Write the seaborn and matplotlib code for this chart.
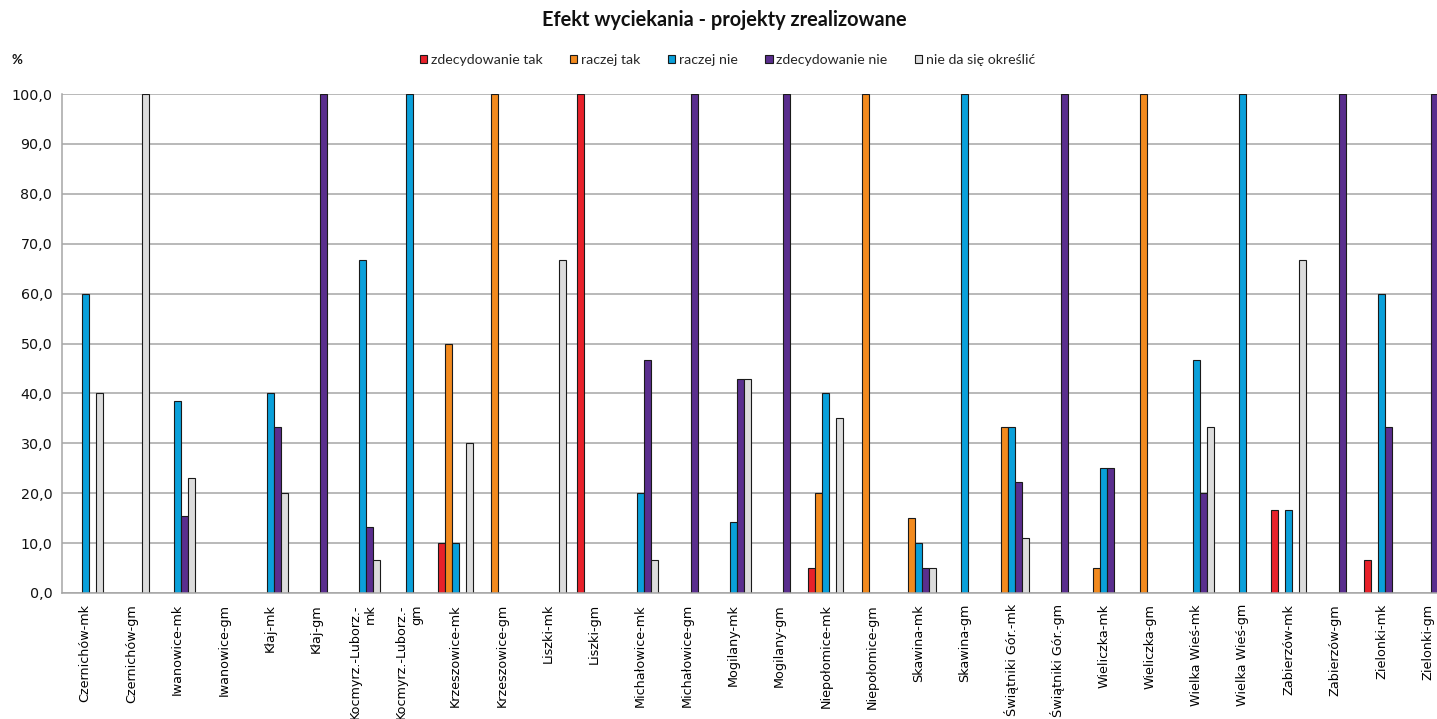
import matplotlib
matplotlib.use("Agg")
import matplotlib.pyplot as plt
from matplotlib.patches import Patch
from matplotlib.ticker import FixedLocator, FuncFormatter
import pandas as pd
import seaborn as sns

# Categories (municipality / area type)
categories = [
    "Czernichów-mk", "Czernichów-gm", "Iwanowice-mk", "Iwanowice-gm",
    "Kłaj-mk", "Kłaj-gm", "Kocmyrz.-Luborz.-\nmk", "Kocmyrz.-Luborz.-\ngm",
    "Krzeszowice-mk", "Krzeszowice-gm", "Liszki-mk", "Liszki-gm",
    "Michałowice-mk", "Michałowice-gm", "Mogilany-mk", "Mogilany-gm",
    "Niepołomice-mk", "Niepołomice-gm", "Skawina-mk", "Skawina-gm",
    "Świątniki Gór.-mk", "Świątniki Gór.-gm", "Wieliczka-mk", "Wieliczka-gm",
    "Wielka Wieś-mk", "Wielka Wieś-gm", "Zabierzów-mk", "Zabierzów-gm",
    "Zielonki-mk", "Zielonki-gm",
]

series_names = ["zdecydowanie tak", "raczej tak", "raczej nie",
                "zdecydowanie nie", "nie da się określić"]

# Share of answers (%) per category
zdecydowanie_tak = [0, 0, 0, 0, 0, 0, 0, 0, 10, 0, 0, 100, 0, 0, 0,
                    0, 5, 0, 0, 0, 0, 0, 0, 0, 0, 0, 16.7, 0, 6.7, 0]
raczej_tak = [0, 0, 0, 0, 0, 0, 0, 0, 50, 100, 0, 0, 0, 0, 0,
              0, 20, 100, 15, 0, 33.3, 0, 5, 100, 0, 0, 0, 0, 0, 0]
raczej_nie = [60, 0, 38.5, 0, 40, 0, 66.7, 100, 10, 0, 0, 0, 20, 0, 14.3,
              0, 40, 0, 10, 100, 33.3, 0, 25, 0, 46.7, 100, 16.7, 0, 60, 0]
zdecydowanie_nie = [0, 0, 15.4, 0, 33.3, 100, 13.3, 0, 0, 0, 0, 0, 46.7, 100, 42.9,
                    100, 0, 0, 5, 0, 22.2, 100, 25, 0, 20, 0, 0, 100, 33.3, 100]
nie_da_sie = [40, 100, 23.1, 0, 20, 0, 6.7, 0, 30, 0, 66.7, 0, 6.7, 0, 42.9,
              0, 35, 0, 5, 0, 11.1, 0, 0, 0, 33.3, 0, 66.7, 0, 0, 0]

colors = ["#E8212A", "#F28A1E", "#0AA0DA", "#5A2E8E", "#DCDCDC"]

y_ticks = [0, 10, 20, 30, 40, 50, 60, 70, 80, 90, 100]

# Long-form table for seaborn
all_series = [zdecydowanie_tak, raczej_tak, raczej_nie, zdecydowanie_nie, nie_da_sie]
rows = []
for name, vals in zip(series_names, all_series):
    for cat, v in zip(categories, vals):
        rows.append({"gmina": cat, "ocena": name, "procent": v})
df = pd.DataFrame(rows)

sns.set_theme(style="white")
plt.rcParams["font.family"] = ["DejaVu Sans"]

W, H = 1437, 719
fig = plt.figure(figsize=(W / 100, H / 100), dpi=100)
fig.patch.set_facecolor("white")

ax_left, ax_bottom, ax_right, ax_top = 62, 593, 1451, 94
ax = fig.add_axes([ax_left / W, 1 - ax_bottom / H,
                   (ax_right - ax_left) / W, (ax_bottom - ax_top) / H])

sns.barplot(data=df, x="gmina", y="procent", hue="ocena",
            order=categories, hue_order=series_names,
            palette=colors, saturation=1, width=0.756, gap=0,
            edgecolor="#1a1a1a", linewidth=0.8, errorbar=None,
            legend=False, ax=ax)

# empty answers are not drawn at all
for p in ax.patches:
    if p.get_height() == 0:
        p.set_visible(False)

ax.set_xlim(-0.5, len(categories) - 0.5)
ax.set_ylim(0, 100)
ax.set_xlabel("")
ax.set_ylabel("")

grid_c = "#A6A6A6"
ax.yaxis.set_major_locator(FixedLocator(y_ticks))
ax.yaxis.set_major_formatter(FuncFormatter(lambda v, _: f"{v:.1f}".replace(".", ",")))
ax.grid(axis="y", color=grid_c, linewidth=1.1)
ax.set_axisbelow(True)

ax.xaxis.set_minor_locator(FixedLocator([i - 0.5 for i in range(len(categories) + 1)]))
ax.tick_params(axis="x", which="major", length=0, pad=8)
ax.tick_params(axis="x", which="minor", length=5, color=grid_c, width=1)
ax.tick_params(axis="y", which="major", length=5, color=grid_c, width=1,
               labelsize=10.3, pad=2, labelcolor="#111111")

for lbl in ax.get_xticklabels():
    lbl.set_rotation(90)
    lbl.set_ha("center")
    lbl.set_va("top")
    lbl.set_multialignment("right")
    lbl.set_fontsize(9.2)
    lbl.set_color("#000000")

for s in ["top", "right"]:
    ax.spines[s].set_visible(False)
for s in ["left", "bottom"]:
    ax.spines[s].set_color(grid_c)
    ax.spines[s].set_linewidth(1.1)

fig.text(724 / W, 1 - 20 / H, "Efekt wyciekania - projekty zrealizowane",
         ha="center", va="center", fontsize=14.4, fontweight="bold",
         family=["Lato", "DejaVu Sans"], color="#111111")
fig.text(11 / W, 1 - 60 / H, "%", ha="left", va="center", fontsize=9.5,
         fontweight="bold", family=["Lato", "DejaVu Sans"], color="#111111")

handles = [Patch(facecolor=c, edgecolor="#1a1a1a", linewidth=0.8, label=n)
           for c, n in zip(colors, series_names)]
fig.legend(handles=handles, loc="center", bbox_to_anchor=(727.5 / W, 1 - 60 / H),
           ncol=5, frameon=False, handlelength=0.52, handleheight=0.52,
           handletextpad=0.25, columnspacing=1.95,
           prop={"family": ["Lato", "DejaVu Sans"], "size": 10.2})

fig.savefig("out.png", dpi=100, facecolor="white")
